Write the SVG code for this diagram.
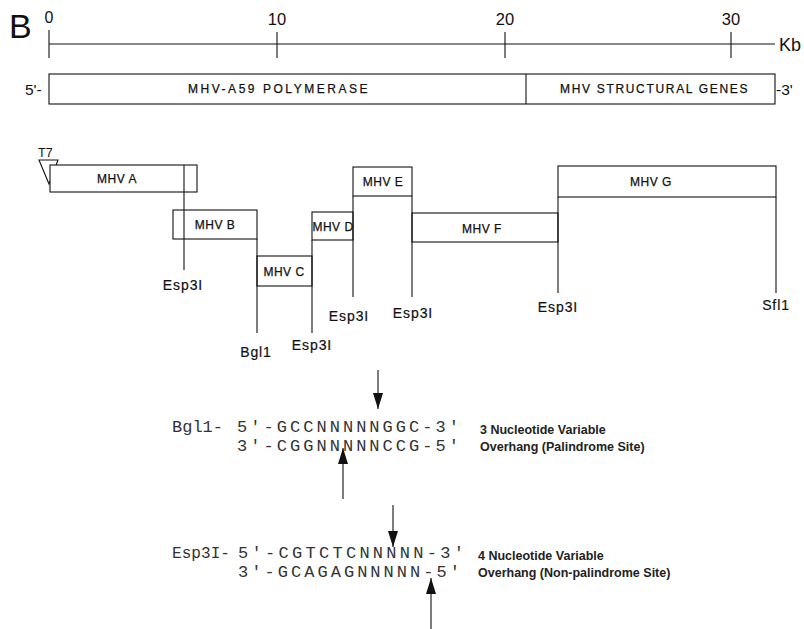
<svg xmlns="http://www.w3.org/2000/svg" width="804" height="629" viewBox="0 0 804 629">
<defs>
<style>
.ln{stroke:#111;stroke-width:1.1;fill:none}
.bx{stroke:#111;stroke-width:1.1;fill:#fff}
.s{font-family:"Liberation Sans",Arial,sans-serif;fill:#111}
.lab{font-family:"Liberation Sans",Arial,sans-serif;font-size:12px;fill:#111;stroke:#111;stroke-width:0.25;text-anchor:middle;letter-spacing:0.5px}
.re{font-family:"Liberation Sans",Arial,sans-serif;font-size:14px;fill:#111;stroke:#111;stroke-width:0.2;text-anchor:middle;letter-spacing:0.9px}
.mono{font-family:"Liberation Mono","Courier New",monospace;font-size:17px;fill:#333}
.note{font-family:"Liberation Sans",Arial,sans-serif;font-size:12.5px;font-weight:bold;fill:#222}
</style>
<marker id="ah" markerWidth="16" markerHeight="10" refX="16" refY="5" orient="auto" markerUnits="userSpaceOnUse" viewBox="0 0 16 10">
<path d="M0,0 L16,5 L0,10 Z" fill="#111"/>
</marker>
</defs>
<rect width="804" height="629" fill="#fff"/>

<g id="title"><text class="s" x="9" y="38" font-size="34">B</text></g>

<g id="ruler">
<line class="ln" x1="49" y1="44" x2="775" y2="44"/>
<line class="ln" x1="49" y1="30" x2="49" y2="58"/>
<line class="ln" x1="277" y1="32" x2="277" y2="58"/>
<line class="ln" x1="505" y1="32" x2="505" y2="58"/>
<line class="ln" x1="731" y1="32" x2="731" y2="58"/>
<text class="s" x="49" y="23" font-size="16" text-anchor="middle">0</text>
<text class="s" x="277" y="25" font-size="16.5" text-anchor="middle">10</text>
<text class="s" x="505" y="25" font-size="16.5" text-anchor="middle">20</text>
<text class="s" x="731" y="25" font-size="16.5" text-anchor="middle">30</text>
<text class="s" x="779" y="51" font-size="18">Kb</text>
</g>

<g id="genome">
<rect class="bx" x="49" y="74" width="726" height="30"/>
<line class="ln" x1="526" y1="74" x2="526" y2="104"/>
<text class="s" x="25" y="95" font-size="15.5">5'-</text>
<text class="s" x="776" y="95" font-size="15.5">-3'</text>
<text class="lab" x="278" y="93" textLength="180" lengthAdjust="spacing">MHV-A59 POLYMERASE</text>
<text class="lab" x="654" y="93" textLength="188" lengthAdjust="spacing">MHV STRUCTURAL GENES</text>
</g>

<g id="t7">
<polygon class="bx" points="39,160 58,160 49,184"/>
<text class="s" x="38" y="157" font-size="12.5">T7</text>
</g>

<g id="mhvA"><rect class="bx" x="50" y="165" width="147" height="27"/><text class="lab" x="117" y="183">MHV A</text></g>
<g id="mhvB"><rect class="bx" x="173" y="210" width="84" height="29"/><text class="lab" x="215" y="229">MHV B</text></g>
<g id="mhvC"><rect class="bx" x="257" y="256" width="55" height="30"/><text class="lab" x="284" y="276">MHV C</text></g>
<g id="mhvD"><rect class="bx" x="312" y="212" width="41" height="28"/><text class="lab" x="333" y="231" letter-spacing="0" font-size="11.5">MHV D</text></g>
<g id="mhvE"><rect class="bx" x="353" y="167" width="59" height="29"/><text class="lab" x="383" y="186">MHV E</text></g>
<g id="mhvF"><rect class="bx" x="412" y="213" width="146" height="29"/><text class="lab" x="482" y="233">MHV F</text></g>
<g id="mhvG"><rect class="bx" x="558" y="166" width="218" height="31"/><text class="lab" x="651" y="186">MHV G</text></g>

<g id="connectors">
<line class="ln" x1="184" y1="165" x2="184" y2="270"/>
<line class="ln" x1="257" y1="239" x2="257" y2="333"/>
<line class="ln" x1="312" y1="240" x2="312" y2="333"/>
<line class="ln" x1="353" y1="196" x2="353" y2="297"/>
<line class="ln" x1="412" y1="196" x2="412" y2="297"/>
<line class="ln" x1="558" y1="197" x2="558" y2="293"/>
<line class="ln" x1="776" y1="197" x2="776" y2="293"/>
<line class="ln" x1="378" y1="370" x2="378" y2="409" marker-end="url(#ah)"/>
<line class="ln" x1="343" y1="499" x2="343" y2="448" marker-end="url(#ah)"/>
<line class="ln" x1="393" y1="505" x2="393" y2="547" marker-end="url(#ah)"/>
<line class="ln" x1="431" y1="629" x2="431" y2="578" marker-end="url(#ah)"/>
</g>

<g id="sites">
<text class="re" x="183" y="290">Esp3I</text>
<text class="re" x="256" y="357">Bgl1</text>
<text class="re" x="312" y="350">Esp3I</text>
<text class="re" x="349" y="321">Esp3I</text>
<text class="re" x="413" y="318">Esp3I</text>
<text class="re" x="558" y="312">Esp3I</text>
<text class="re" x="776" y="310">Sfl1</text>
</g>

<g id="bgl1">
<text class="mono" x="172" y="432">Bgl1-</text>
<text class="mono" x="237" y="432" textLength="222" lengthAdjust="spacing">5'-GCCNNNNNGGC-3'</text>
<text class="mono" x="237" y="451" textLength="222" lengthAdjust="spacing">3'-CGGNNNNNCCG-5'</text>
<text class="note" x="480" y="434">3 Nucleotide Variable</text>
<text class="note" x="480" y="451">Overhang (Palindrome Site)</text>
</g>

<g id="esp3i">
<text class="mono" x="172" y="558" textLength="58" lengthAdjust="spacingAndGlyphs">Esp3I-</text>
<text class="mono" x="238" y="558" textLength="226" lengthAdjust="spacing">5'-CGTCTCNNNNN-3'</text>
<text class="mono" x="238" y="577" textLength="222" lengthAdjust="spacing">3'-GCAGAGNNNNN-5'</text>
<text class="note" x="478" y="560">4 Nucleotide Variable</text>
<text class="note" x="478" y="577">Overhang (Non-palindrome Site)</text>
</g>
</svg>
